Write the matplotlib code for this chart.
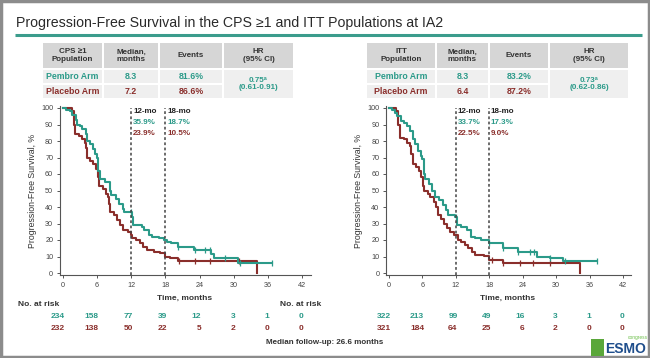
import numpy as np
import matplotlib.pyplot as plt
from matplotlib.patches import Rectangle
from matplotlib.transforms import blended_transform_factory

plt.rcParams['font.family'] = ['Liberation Sans', 'DejaVu Sans']

TEAL = '#2b9a89'
RED = '#8a2e2b'
DARK = '#333333'

time_ticks = [0, 6, 12, 18, 24, 30, 36, 42]

# ---- CPS >= 1 population (left panel)
cps_pem_t = [0, 0.6, 1.2, 1.6, 2.2, 2.5, 3.0, 3.4, 4.0, 4.3, 4.8, 5.2, 5.7, 6.0, 6.2, 6.5,
             7.4, 8.2, 8.5, 9.3, 9.9, 10.5, 10.8, 12.1, 12.3, 13.8, 14.3, 15.2, 15.6, 16.8,
             17.7, 18.2, 19.0, 20.2, 23.0, 26.0, 26.5, 30.8, 36.7]
cps_pem_s = [100, 99, 98, 96, 93, 90, 89, 87, 84, 80, 78, 75, 72, 70, 62, 57,
             55, 50, 47, 45, 42, 39, 37, 34, 29, 28, 26, 23, 22, 21,
             20, 19, 18, 16, 14, 11.5, 9, 6.3, 6.3]
cps_pem_cens = [12.0, 20.2, 23.2, 25.0, 25.8, 28.5, 31.1, 36.7]

cps_pbo_t = [0, 1.6, 1.9, 2.1, 2.8, 3.3, 3.9, 4.1, 4.3, 4.8, 5.3, 5.8, 6.2, 6.4, 7.0,
             7.5, 7.9, 8.1, 8.3, 8.9, 9.5, 10.0, 10.6, 11.4, 11.9, 12.2, 12.9, 13.5,
             14.0, 14.7, 16.0, 17.0, 17.9, 18.8, 20.2, 34.1]
cps_pbo_s = [100, 98, 90, 84, 83, 81, 79, 76, 70, 68, 66, 63, 58, 53, 51,
             48, 46, 42, 37, 35, 32, 29, 26, 25, 23, 21, 20, 18,
             16, 14, 13, 12, 10, 9, 7.5, 0]
cps_pbo_cens = [20.4, 23.2, 25.8, 31.0]

# ---- ITT population (right panel)
itt_pem_t = [0, 0.5, 1.0, 1.5, 2.1, 2.7, 3.2, 3.7, 4.3, 4.7, 5.2, 5.7, 6.0, 6.2, 6.5,
             7.2, 7.8, 8.2, 9.0, 9.7, 10.3, 10.6, 11.8, 12.2, 13.0, 14.0, 14.8, 15.5,
             16.6, 18.0, 20.5, 23.2, 26.5, 28.9, 31.2, 37.3]
itt_pem_s = [100, 99, 97, 95, 92, 91, 89, 86, 81, 78, 74, 71, 69, 60, 57,
             54, 50, 46, 44, 41, 38, 35, 34, 29, 28, 26, 22, 21,
             20, 18, 15, 13, 10, 9, 7, 7]
itt_pem_cens = [12.0, 18.0, 20.5, 23.2, 25.3, 26.0, 28.9, 31.5, 37.3]

itt_pbo_t = [0, 1.3, 1.7, 1.9, 2.7, 3.3, 3.8, 4.0, 4.3, 4.8, 5.3, 5.8, 6.1, 6.3, 7.0,
             7.4, 8.0, 8.4, 8.8, 9.4, 9.8, 10.4, 11.0, 11.6, 12.3, 12.9, 13.6, 14.2,
             14.9, 15.4, 17.1, 18.0, 20.5, 34.3]
itt_pbo_s = [100, 98, 90, 82, 81, 79, 77, 72, 66, 64, 62, 58, 53, 50, 48,
             46, 43, 40, 35, 33, 30, 27, 25, 23, 20, 19, 17, 15,
             13, 11, 10.5, 8, 6.3, 0]
itt_pbo_cens = [18.5, 20.5, 23.5, 25.9, 28.9]

# landmark estimates
cps_marks = {'12-mo': ('35.9%', '23.9%'), '18-mo': ('18.7%', '10.5%')}
itt_marks = {'12-mo': ('33.7%', '22.5%'), '18-mo': ('17.3%', '9.0%')}

# at risk
cps_risk_pem = [234, 158, 77, 39, 12, 3, 1, 0]
cps_risk_pbo = [232, 138, 50, 22, 5, 2, 0, 0]
itt_risk_pem = [322, 213, 99, 49, 16, 3, 1, 0]
itt_risk_pbo = [321, 184, 64, 25, 6, 2, 0, 0]

# summary tables
cps_table = [['CPS ≥1\nPopulation', 'Median,\nmonths', 'Events', 'HR\n(95% CI)'],
             ['Pembro Arm', '8.3', '81.6%'],
             ['Placebo Arm', '7.2', '86.6%']]
cps_hr = '0.75ᵃ\n(0.61-0.91)'
itt_table = [['ITT\nPopulation', 'Median,\nmonths', 'Events', 'HR\n(95% CI)'],
             ['Pembro Arm', '8.3', '83.2%'],
             ['Placebo Arm', '6.4', '87.2%']]
itt_hr = '0.73ᵃ\n(0.62-0.86)'

W, H = 650, 358
fig = plt.figure(figsize=(W / 100, H / 100), dpi=100)
fig.patch.set_facecolor('white')

# overlay in pixel coords for slide furniture
ov = fig.add_axes([0, 0, 1, 1])
ov.set_xlim(0, W)
ov.set_ylim(H, 0)
ov.axis('off')
ov.add_patch(Rectangle((1, 1), W - 2, H - 2, fill=False, ec='#8c8c8c', lw=2.5))

ov.text(16, 23.5, 'Progression-Free Survival in the CPS ≥1 and ITT Populations at IA2',
        fontsize=10.2, color='#2a2a2a', va='center', ha='left')
ov.plot([15, 642], [34.5, 34.5], color='#3b9c8c', lw=2.2, solid_capstyle='butt')


def draw_table(edges, rows, hr):
    y_hdr, y_r1, y_r2 = (43, 68), (70, 83), (85, 98)
    for (x0, x1), txt in zip(edges, rows[0]):
        ov.add_patch(Rectangle((x0, y_hdr[0]), x1 - x0, y_hdr[1] - y_hdr[0], fc='#d6d6d6', ec='none'))
        ov.text((x0 + x1) / 2, sum(y_hdr) / 2, txt, ha='center', va='center',
                fontsize=5.8, fontweight='bold', color=DARK, linespacing=1.05)
    for (ya, yb), row, col in [(y_r1, rows[1], TEAL), (y_r2, rows[2], RED)]:
        for (x0, x1), txt in zip(edges[:3], row):
            ov.add_patch(Rectangle((x0, ya), x1 - x0, yb - ya, fc='#efefef', ec='none'))
            ov.text((x0 + x1) / 2, (ya + yb) / 2, txt, ha='center', va='center',
                    fontsize=6.3, fontweight='bold', color=col)
    x0, x1 = edges[3]
    ov.add_patch(Rectangle((x0, y_r1[0]), x1 - x0, y_r2[1] - y_r1[0], fc='#efefef', ec='none'))
    ov.text((x0 + x1) / 2, (y_r1[0] + y_r2[1]) / 2, hr, ha='center', va='center',
            fontsize=5.8, fontweight='bold', color=TEAL, linespacing=1.1)


draw_table([(43, 102), (104, 158), (160, 222), (224, 293)], cps_table, cps_hr)
draw_table([(367, 435), (437, 488), (490, 548), (550, 628)], itt_table, itt_hr)


def surv_at(t, s, x):
    i = np.searchsorted(t, x, side='right') - 1
    return s[i]


def km_panel(x0px, x42px, pem, pbo, marks, risk_pem, risk_pbo, risk_label_x):
    ppm = (x42px - x0px) / 42
    ppp = (273 - 108) / 100
    xl, xr, yb, yt = -0.5, 43.5, -1.5, 101
    left = x0px + xl * ppm
    right = x0px + xr * ppm
    bottom = 273 - yb * ppp
    top = 273 - yt * ppp
    ax = fig.add_axes([left / W, 1 - bottom / H, (right - left) / W, (bottom - top) / H])
    ax.set_facecolor('none')
    ax.set_xlim(xl, xr)
    ax.set_ylim(yb, yt)

    for (t, s, cens), col in [(pbo, RED), (pem, TEAL)]:
        ax.step(t, s, where='post', color=col, lw=1.5)
        ax.plot(cens, [surv_at(t, s, c) for c in cens], ls='none', marker='|',
                ms=4, mew=0.9, color=col)

    for xm, (lab, (vp, vb)) in zip([12, 18], marks.items()):
        ax.plot([xm, xm], [yb, 100], color='#444444', lw=1.1, ls=(0, (1.8, 1.6)))
        ax.text(xm + 0.3, 98, lab, fontsize=5.8, fontweight='bold', color='#222222', va='center')
        ax.text(xm + 0.3, 91.5, vp, fontsize=5.8, fontweight='bold', color=TEAL, va='center')
        ax.text(xm + 0.3, 84.5, vb, fontsize=5.8, fontweight='bold', color=RED, va='center')

    for sp in ['top', 'right']:
        ax.spines[sp].set_visible(False)
    for sp in ['left', 'bottom']:
        ax.spines[sp].set_color('#555555')
        ax.spines[sp].set_linewidth(0.8)
    ax.set_xticks(time_ticks)
    ax.set_yticks(range(0, 101, 10))
    ax.tick_params(labelsize=5.2, length=2.5, width=0.7, colors='#555555', pad=2.5,
                   labelcolor='#444444')
    ax.set_ylabel('Progression-Free Survival, %', fontsize=6.3, color='#333333', labelpad=3)

    tr = blended_transform_factory(ax.transData, ov.transData)
    ov.text((x0px + x42px) / 2 + 2, 298, 'Time, months', ha='center', va='center',
            fontsize=6, fontweight='bold', color=DARK)
    ov.text(risk_label_x, 305, 'No. at risk', ha='left', va='center',
            fontsize=6, fontweight='bold', color=DARK)
    for tk, a, b in zip(time_ticks, risk_pem, risk_pbo):
        ov.text(tk + 0.3, 316, str(a), transform=tr, ha='right', va='center',
                fontsize=6, fontweight='bold', color=TEAL)
        ov.text(tk + 0.3, 328, str(b), transform=tr, ha='right', va='center',
                fontsize=6, fontweight='bold', color=RED)
    return ax


km_panel(63, 302, (cps_pem_t, cps_pem_s, cps_pem_cens), (cps_pbo_t, cps_pbo_s, cps_pbo_cens),
         cps_marks, cps_risk_pem, cps_risk_pbo, 18)
km_panel(389, 623, (itt_pem_t, itt_pem_s, itt_pem_cens), (itt_pbo_t, itt_pbo_s, itt_pbo_cens),
         itt_marks, itt_risk_pem, itt_risk_pbo, 280)

ov.text(325, 342, 'Median follow-up: 26.6 months', ha='center', va='center',
        fontsize=5.8, fontweight='bold', color=DARK)

# congress logo (approximation)
ov.add_patch(Rectangle((591, 339), 13, 17, fc='#5aa73a', ec='none'))
ov.text(605, 349, 'ESMO', fontsize=10, fontweight='bold', color='#1f4e8c',
        va='center', ha='left')
ov.text(628, 337, 'congress', fontsize=3.5, color='#6cbf4a', va='center', ha='left')

fig.savefig('out.png', dpi=100)
